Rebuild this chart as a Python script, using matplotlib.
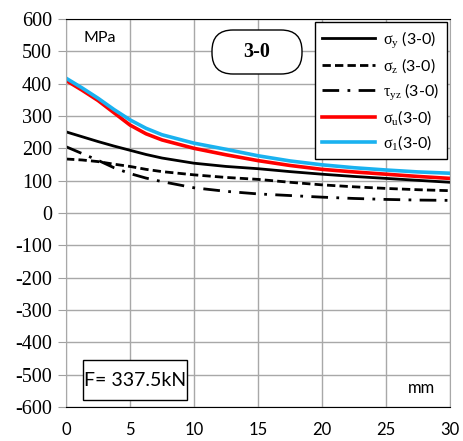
import numpy as np
import matplotlib
matplotlib.use("Agg")
import matplotlib.pyplot as plt
from matplotlib.patches import FancyBboxPatch
from matplotlib.transforms import IdentityTransform

# distance along path, mm
x = [0, 1.25, 2.5, 3.75, 5, 6.25, 7.5, 10, 12.5, 15, 17.5, 20, 22.5, 25, 27.5, 30]

# stresses, MPa
sig_y = [251, 236, 221, 207, 194, 181, 170, 154, 144, 137, 128, 120, 113, 107, 101, 95]
sig_z = [167, 164, 159, 151, 144, 135, 128, 118, 110, 104, 95, 87, 81, 76, 72, 69]
tau_yz = [205, 184, 163, 140, 122, 108, 97, 78, 67, 59, 54, 49, 45, 42, 40, 39]
sig_u = [410, 380, 348, 310, 272, 245, 226, 200, 180, 162, 147, 135, 127, 120, 113, 107]
sig_1 = [417, 387, 355, 320, 288, 262, 242, 216, 197, 177, 161, 149, 140, 133, 127, 123]

xticks = [0, 5, 10, 15, 20, 25, 30]
yticks = list(range(-600, 601, 100))

sans = "Lato"
serif = "Liberation Serif"

plt.rcParams["mathtext.fontset"] = "custom"
plt.rcParams["mathtext.rm"] = serif
plt.rcParams["mathtext.it"] = serif
plt.rcParams["font.family"] = serif
plt.rcParams["axes.unicode_minus"] = False

fig = plt.figure(figsize=(4.63, 4.41), dpi=100)
ax = fig.add_axes([66 / 463, 1 - 407 / 441, 384 / 463, 388 / 441])

ax.plot(x, sig_y, color="black", lw=2, label=r"$\mathrm{\sigma_y}$ (3-0)")
ax.plot(x, sig_z, color="black", lw=2, ls=(0, (3, 1.5)), label=r"$\mathrm{\sigma_z}$ (3-0)")
ax.plot(x, tau_yz, color="black", lw=2, ls=(0, (6, 3, 1, 3)), label=r"$\mathrm{\tau_{yz}}$ (3-0)")
ax.plot(x, sig_u, color="#FF0000", lw=2.6, label=r"$\mathrm{\sigma_u}$(3-0)")
ax.plot(x, sig_1, color="#1AB2F0", lw=2.6, label=r"$\mathrm{\sigma_1}$(3-0)")

ax.set_xlim(0, 30)
ax.set_ylim(-600, 600)
ax.set_xticks(xticks)
ax.set_yticks(yticks)
ax.set_yticklabels([str(t) for t in yticks], fontfamily=serif, fontsize=14.5)
ax.set_xticklabels([str(t) for t in xticks], fontfamily=sans, fontsize=12)
ax.tick_params(axis="y", length=6, color="#A0A0A0", pad=4)
ax.tick_params(axis="x", length=0, pad=11)
ax.grid(True, color="#A8A8A8", lw=1)
ax.set_axisbelow(True)
for s in ["left", "right"]:
    ax.spines[s].set_color("#A8A8A8")
for s in ["top", "bottom"]:
    ax.spines[s].set_color("black")

leg = ax.legend(loc="upper right", bbox_to_anchor=(0.991, 0.993), borderaxespad=0,
                handlelength=3.3, handletextpad=0.55, borderpad=0.45,
                labelspacing=0.4, fancybox=False,
                framealpha=1, edgecolor="black", prop={"family": sans, "size": 11.5})
leg.get_frame().set_linewidth(1)

ax.text(0.088, 0.952, "MPa", transform=ax.transAxes, ha="center", va="center",
        fontfamily=sans, fontsize=11.5)

# pill-shaped label box (figure pixels)
pill = FancyBboxPatch((212, 441 - 74), 90, 44, boxstyle="round,pad=0,rounding_size=21",
                      transform=IdentityTransform(), fc="white", ec="black", lw=1, zorder=4)
fig.add_artist(pill)
fig.text(257 / 463, 1 - 52 / 441, "3-0", ha="center", va="center",
         fontfamily=serif, fontsize=14.5, fontweight="bold", zorder=5)

fbox = FancyBboxPatch((83, 441 - 400), 104, 40, boxstyle="square,pad=0",
                      transform=IdentityTransform(), fc="white", ec="black", lw=1, zorder=4)
fig.add_artist(fbox)
fig.text(135 / 463, 1 - 381 / 441, "F= 337.5kN", ha="center", va="center",
         fontfamily=sans, fontsize=14, zorder=5)
ax.text(0.927, 0.05, "mm", transform=ax.transAxes, ha="center", va="center",
        fontfamily=sans, fontsize=12)

fig.savefig("out.png", dpi=100)
